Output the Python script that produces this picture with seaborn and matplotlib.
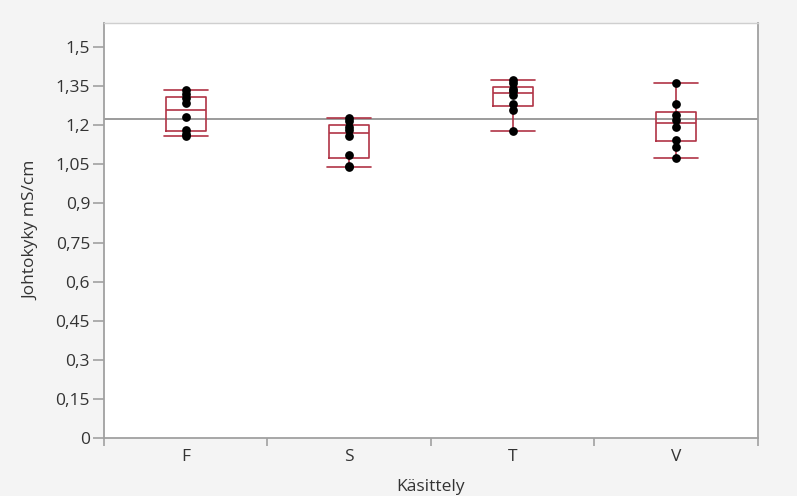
import numpy as np
import pandas as pd
import matplotlib
matplotlib.use("Agg")
import matplotlib.pyplot as plt
from matplotlib.ticker import FixedLocator, FuncFormatter
import seaborn as sns

categories = ["F", "S", "T", "V"]
F_vals = [1.160, 1.165, 1.180, 1.230, 1.286, 1.305, 1.320, 1.335]
S_vals = [1.040, 1.045, 1.085, 1.160, 1.180, 1.195, 1.215, 1.228]
T_vals = [1.178, 1.260, 1.280, 1.315, 1.333, 1.340, 1.360, 1.373]
V_vals = [1.075, 1.115, 1.145, 1.195, 1.220, 1.240, 1.280, 1.362]
y_ticks = [0, 0.15, 0.3, 0.45, 0.6, 0.75, 0.9, 1.05, 1.2, 1.35, 1.5]

groups = [F_vals, S_vals, T_vals, V_vals]
df = pd.DataFrame({
    "Käsittely": np.repeat(categories, [len(g) for g in groups]),
    "Johtokyky": np.concatenate(groups),
})

sns.set_theme(style="white")
plt.rcParams["font.family"] = ["Open Sans", "DejaVu Sans"]

fig = plt.figure(figsize=(7.97, 4.96), dpi=100, facecolor="#f4f4f4")
ax = fig.add_axes([0.1305, 0.1169, 0.8205, 0.8367])
ax.set_facecolor("white")

box_color = "#b03446"
box_w = 0.245
sns.boxplot(data=df, x="Käsittely", y="Johtokyky", order=categories,
            width=box_w, fill=False, color=box_color, linewidth=1.2,
            showfliers=False, whis=1.5, ax=ax)

# widen caps to about the box width
cap_w = 0.27
for ln in ax.lines:
    xd = np.asarray(ln.get_xdata(), dtype=float)
    yd = np.asarray(ln.get_ydata(), dtype=float)
    ln.set_color(box_color)
    if len(xd) == 2 and yd[0] == yd[1]:
        length = abs(xd[1] - xd[0])
        if length < box_w * 0.75:
            c = xd.mean()
            ln.set_xdata([c - cap_w / 2, c + cap_w / 2])

sns.stripplot(data=df, x="Käsittely", y="Johtokyky", order=categories,
              jitter=False, color="black", size=6.3, ax=ax, zorder=5)

ax.axhline(df["Johtokyky"].mean(), color="#8a8a8a", linewidth=1.2, zorder=1)

ax.set_xlim(-0.5, 3.5)
ax.set_ylim(0, 1.592)
ax.set_yticks(y_ticks)
ax.yaxis.set_major_formatter(FuncFormatter(lambda v, p: ("%g" % round(v, 2)).replace(".", ",")))

ax.xaxis.set_major_locator(FixedLocator([-0.5, 0.5, 1.5, 2.5, 3.5]))
ax.xaxis.set_minor_locator(FixedLocator([0, 1, 2, 3]))
ax.xaxis.set_major_formatter(FuncFormatter(lambda v, p: ""))
ax.xaxis.set_minor_formatter(FuncFormatter(lambda v, p: categories[int(round(v))]))
ax.tick_params(axis="x", which="major", length=6, width=1.2, color="#a0a0a0", direction="out", bottom=True)
ax.tick_params(axis="x", which="minor", length=0, pad=8, labelsize=12.5, labelcolor="#333333")
ax.tick_params(axis="y", length=8, width=1.2, color="#a0a0a0", direction="out", left=True,
               labelsize=12.5, labelcolor="#333333", pad=2)

for side in ["left", "bottom", "right"]:
    ax.spines[side].set_color("#a0a0a0")
    ax.spines[side].set_linewidth(1.3)
ax.spines["top"].set_color("#cfcfcf")
ax.spines["top"].set_linewidth(1.0)

ax.set_xlabel("Käsittely", fontsize=12.5, color="#333333", labelpad=10)
ax.set_ylabel("Johtokyky mS/cm", fontsize=12.5, color="#333333", labelpad=12)

fig.savefig("out.png", dpi=100, facecolor=fig.get_facecolor())
